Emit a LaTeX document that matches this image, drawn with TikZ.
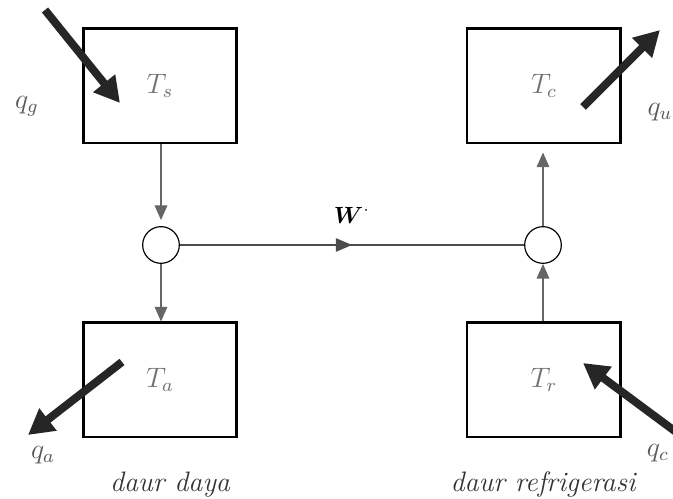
\documentclass[tikz,border=0pt]{standalone}
\usepackage{bm}
\usetikzlibrary{arrows.meta,decorations.markings}

\begin{document}
\begin{tikzpicture}[x=0.015cm, y=-0.015cm,
    tbox/.style={draw, line width=1pt, minimum width=2.3cm, minimum height=1.72cm, text=black!55, font=\large},
    junc/.style={draw, circle, line width=0.5pt, minimum size=0.55cm, inner sep=0pt},
    flow/.style={-{Triangle[length=0.22cm, width=0.19cm]}, line width=0.5pt, draw=black!60, fill=black!80},
    heat/.style={-{Triangle[length=0.38cm, width=0.4cm]}, line width=3.4pt, draw=black!85},
    qlabel/.style={text=black!65, font=\large},
    cycle/.style={font=\large\itshape, text=black!80}]
  \useasboundingbox (0,0) rectangle (673,499);

  % the four reservoirs
  \node[tbox] (Ts) at (160,86) {$T_s$};
  \node[tbox] (Tc) at (544,86) {$T_c$};
  \node[tbox] (Ta) at (160,380) {$T_a$};
  \node[tbox] (Tr) at (544,380) {$T_r$};

  % the two engines
  \node[junc] (J1) at (161,245) {};
  \node[junc] (J2) at (543,245) {};

  % thin flows
  \draw[flow, shorten >=0.09cm] (Ts.south -| J1) -- (J1);
  \draw[flow] (J1) -- (Ta.north -| J1);
  \draw[flow] (Tr.north -| J2) -- (J2);
  \draw[flow, shorten >=0.12cm] (J2) -- (Tc.south -| J2);
  \draw[line width=0.5pt, draw=black!70, postaction={decorate},
    decoration={markings, mark=at position 0.5 with {\arrow{Triangle[length=0.24cm, width=0.2cm]}}}]
    (J1) -- node[above=0.2cm] {$\bm{W}^{\cdot}$} (J2);

  % heat in and out
  \coordinate (qgin) at (45,10);
  \coordinate (qgend) at (120,103);
  \draw[heat] (qgin) -- (qgend);
  \coordinate (quin) at (583,107);
  \coordinate (quend) at (660,30);
  \draw[heat] (quin) -- (quend);
  \coordinate (qain) at (122,362);
  \coordinate (qaend) at (28,435);
  \draw[heat] (qain) -- (qaend);
  \coordinate (qcin) at (676,432);
  \coordinate (qcend) at (583,363);
  \draw[heat] (qcin) -- (qcend);

  \node[qlabel] (qg) at (27,106) {$q_g$};
  \node[qlabel] (qu) at (660,112) {$q_u$};
  \node[qlabel] (qa) at (43,455) {$q_a$};
  \node[qlabel] (qc) at (658,453) {$q_c$};

  \node[cycle] (daya) at (170,485) {daur daya};
  \node[cycle] (refr) at (543,484) {daur refrigerasi};
\end{tikzpicture}
\end{document}
